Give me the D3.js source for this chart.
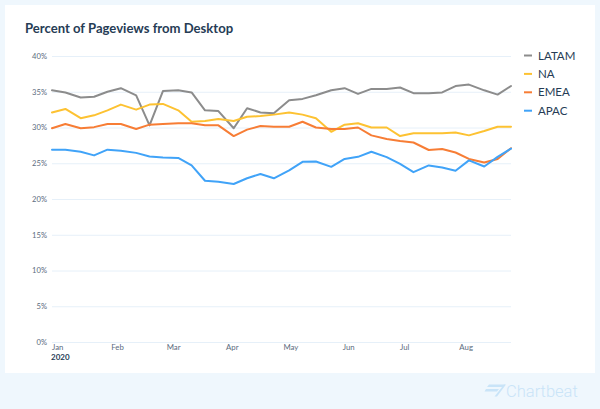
<!DOCTYPE html>
<html><head><meta charset="utf-8">
<script src="https://cdn.jsdelivr.net/npm/d3@7"></script>
<style>
html,body{margin:0;padding:0;background:#eff7fd;}
svg{display:block;}
</style></head>
<body>
<svg id="c" width="600" height="409"></svg>
<script>
const dates = ["2020-01-01","2020-01-08","2020-01-16","2020-01-23","2020-01-30","2020-02-06","2020-02-14","2020-02-21","2020-02-28","2020-03-07","2020-03-14","2020-03-21","2020-03-28","2020-04-05","2020-04-12","2020-04-19","2020-04-26","2020-05-04","2020-05-11","2020-05-18","2020-05-26","2020-06-02","2020-06-09","2020-06-16","2020-06-24","2020-07-01","2020-07-08","2020-07-16","2020-07-23","2020-07-30","2020-08-06","2020-08-14","2020-08-21","2020-08-28"];
const latam = [35.2,34.9,34.2,34.3,35.0,35.5,34.5,30.3,35.1,35.2,34.9,32.4,32.3,29.9,32.7,32.1,32.0,33.8,34.0,34.5,35.2,35.5,34.7,35.4,35.4,35.6,34.8,34.8,34.9,35.8,36.0,35.2,34.6,35.8];
const na    = [32.1,32.6,31.3,31.7,32.4,33.2,32.5,33.2,33.3,32.4,30.8,30.9,31.2,30.9,31.5,31.6,31.8,32.1,31.8,31.3,29.4,30.4,30.6,30.0,30.0,28.8,29.2,29.2,29.2,29.3,28.9,29.5,30.1,30.1];
const emea  = [29.9,30.5,29.9,30.05,30.5,30.5,29.8,30.4,30.5,30.6,30.6,30.3,30.3,28.8,29.7,30.2,30.1,30.1,30.8,30.0,29.8,29.8,30.0,28.9,28.4,28.1,27.9,26.85,27.0,26.5,25.6,25.1,25.6,27.1];
const apac  = [26.9,26.9,26.6,26.1,26.9,26.75,26.45,25.95,25.8,25.75,24.7,22.55,22.4,22.1,22.9,23.5,22.9,24.0,25.2,25.25,24.5,25.6,25.9,26.6,25.85,24.9,23.75,24.7,24.4,23.95,25.4,24.55,25.9,27.05];
const seriesNames = ["LATAM","NA","EMEA","APAC"];
const seriesColors = ["#8c8c8c","#fdc232","#f77d35","#40a3f8"];
const yTicks = [0,5,10,15,20,25,30,35,40];

const parse = d3.timeParse("%Y-%m-%d");
const X = dates.map(parse);
const seriesVals = [latam, na, emea, apac];

const svg = d3.select("#c");
svg.append("rect").attr("x",5).attr("y",5).attr("width",590).attr("height",368).attr("fill","#ffffff");

svg.append("text").attr("x",25).attr("y",33.3)
  .attr("font-family","Lato, 'Open Sans', sans-serif").attr("font-weight",700)
  .attr("font-size",13.1).attr("fill","#263c55")
  .text("Percent of Pageviews from Desktop");

const pLeft = 52, pRight = 511, pTop = 56, pBottom = 342;
const x = d3.scaleTime().domain(d3.extent(X)).range([pLeft, pRight]);
const y = d3.scaleLinear().domain([0,40]).range([pBottom, pTop]);

const gy = svg.append("g").attr("transform",`translate(${pLeft},0)`)
  .call(d3.axisLeft(y).tickValues(yTicks).tickFormat(d => d + "%").tickSize(-(pRight-pLeft)).tickPadding(5));
gy.select(".domain").remove();
gy.selectAll("line").attr("stroke","#e6f0f9").attr("stroke-width",1);
gy.selectAll("text").attr("font-family","Lato, 'Open Sans', sans-serif").attr("font-size",7.6).attr("fill","#5b6b7e");

const gx = svg.append("g").attr("transform",`translate(0,${pBottom})`)
  .call(d3.axisBottom(x).ticks(d3.timeMonth.every(1)).tickFormat(d3.timeFormat("%b")).tickSize(0).tickPadding(2.8));
gx.select(".domain").remove();
gx.selectAll("text").attr("text-anchor","start").attr("dx",-0.5)
  .attr("font-family","Lato, 'Open Sans', sans-serif").attr("font-size",7.8).attr("fill","#5b6b7e");

svg.append("text").attr("x",51).attr("y",360.3)
  .attr("font-family","Lato, 'Open Sans', sans-serif").attr("font-weight",700)
  .attr("font-size",8).attr("fill","#263c55").text("2020");

const line = d3.line().x((d,i) => x(X[i])).y(d => y(d));
seriesVals.forEach((vals, k) => {
  svg.append("path").datum(vals).attr("d", line)
    .attr("fill","none").attr("stroke", seriesColors[k]).attr("stroke-width",2)
    .attr("stroke-linejoin","round").attr("stroke-linecap","round");
});

const lg = svg.append("g").attr("transform","translate(524,55.5)");
seriesNames.forEach((n,k) => {
  const g = lg.append("g").attr("transform",`translate(0,${k*18.4})`);
  g.append("line").attr("x1",0).attr("x2",8).attr("y1",0).attr("y2",0)
    .attr("stroke",seriesColors[k]).attr("stroke-width",2);
  g.append("text").attr("x",14).attr("y",0).attr("dy","0.36em")
    .attr("font-family","Lato, 'Open Sans', sans-serif").attr("font-size",11.5).attr("fill","#263c55").text(n);
});

// Chartbeat logo
const logo = svg.append("g").attr("fill","#c9e4f8");
logo.append("path").attr("d","M489,384.5 L505,384.5 L503,387 L487,387 Z");
logo.append("path").attr("d","M486,389 L499,389 L497,391.5 L484.5,391.5 Z");
logo.append("path").attr("d","M504,384.5 L506,384.5 L497,396.5 L494.5,396.5 Z");
logo.append("text").attr("x",506).attr("y",396.5)
  .attr("font-family","Roboto, 'Open Sans', sans-serif").attr("font-weight",300)
  .attr("font-size",16.5).attr("fill","#c9e4f8").text("Chartbeat");
</script>
</body></html>
